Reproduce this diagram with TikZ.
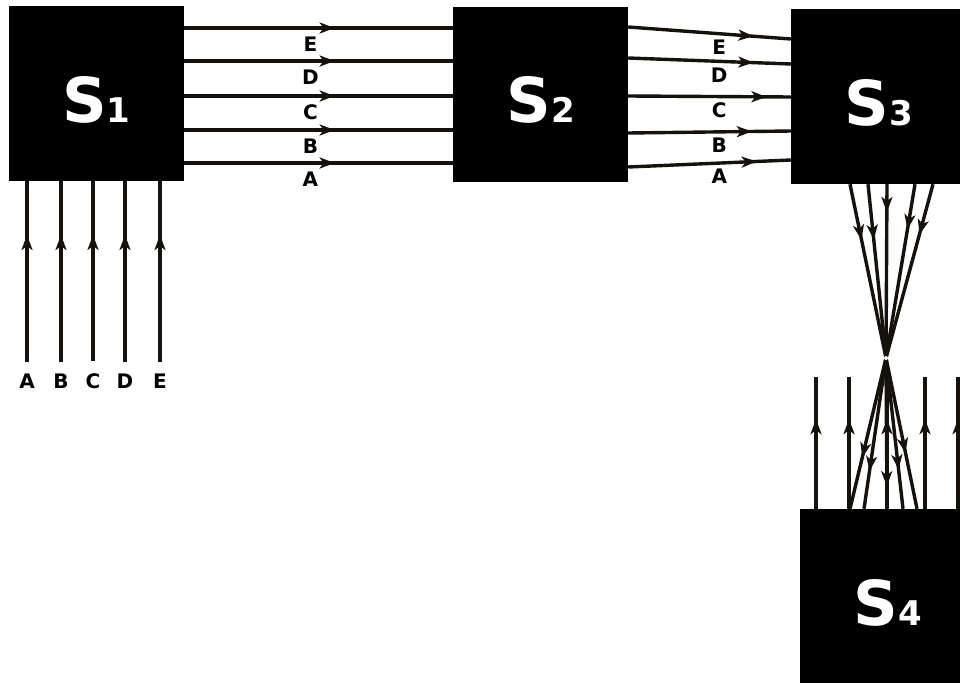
\documentclass[tikz,border=0pt]{standalone}
\usepackage{fontspec}
\setmainfont{DejaVu Sans}
\usetikzlibrary{arrows.meta, decorations.markings}

\definecolor{ink}{HTML}{15110C}
\newcommand{\stagename}[1]{{\fontsize{62}{62}\selectfont S}{\fontsize{34}{34}\selectfont #1}}

\tikzset{
  stage/.style={fill=black, minimum size=175pt, inner sep=0pt, text=white,
    font=\bfseries, text height=57pt, text depth=0pt},
  wire/.style={draw=ink, line width=3.4pt},
  flow/.style={wire, postaction={decorate}, decoration={markings,
    mark=at position #1 with {\arrow[ink]{Stealth[length=15pt,width=11pt,inset=4pt]}}}},
  tag/.style={font=\bfseries\fontsize{20}{20}\selectfont, inner sep=0pt},
}

\begin{document}
\begin{tikzpicture}[x=1pt, y=-1pt]
    \useasboundingbox[fill=white] (0,0) rectangle (960,682);

    % Stages
    \node[stage] (S1) at (96.5,93.5) {\stagename{1}};
    \node[stage] (S2) at (540.5,94.5) {\stagename{2}};
    \node[stage] (S3) at (878.5,96.5) {\stagename{3}};
    \node[stage] (S4) at (887.5,596.5) {\stagename{4}};

    % Inputs of S1
    \foreach \x/\l in {27/A, 61/B, 93/C, 125/D, 160/E} {
        \node[tag] (in\l) at (\x,381) {\l};
        \draw[flow=0.72, shorten <=12pt] (in\l.north) -- (in\l.north |- S1.south);
    }

    % S1 to S2
    \foreach \y/\l in {28/E, 61/D, 96/C, 130/B, 163/A} {
        \draw[flow=0.56] (S1.east |- 0,\y) -- (S2.west |- 0,\y)
            node[tag, pos=0.47, below=7pt] (a\l) {\l};
    }

    % S2 to S3
    \foreach \ya/\yb/\l/\p in {27/39/E/0.77, 58/64/D/0.77, 96/97/C/0.85, 133/131/B/0.76, 167/160/A/0.79} {
        \draw[flow=\p] (S2.east |- 0,\ya) -- (S3.west |- 0,\yb)
            node[tag, pos=0.56, below=4.5pt] (b\l) {\l};
    }

    % S3 to S4, crossing in one point
    \coordinate (X) at (886,358);
    \foreach \xa/\xb/\pa/\pb in {850/917/0.32/0.63, 868/903/0.32/0.74, 887/887/0.16/0.85, 915/864/0.26/0.75, 933/850/0.29/0.66} {
        \draw[flow=\pa] (S3.south -| \xa,0) -- (X);
        \draw[flow=\pb] (X) -- (S4.north -| \xb,0);
    }
    \fill[white] (X) circle (2pt);

    % Outputs of S4
    \foreach \x [count=\i] in {816, 849, 887, 925, 958} {
        \coordinate (out\i) at (\x,377);
        \draw[flow=0.68] (S4.north -| out\i) -- (out\i);
    }
\end{tikzpicture}
\end{document}
